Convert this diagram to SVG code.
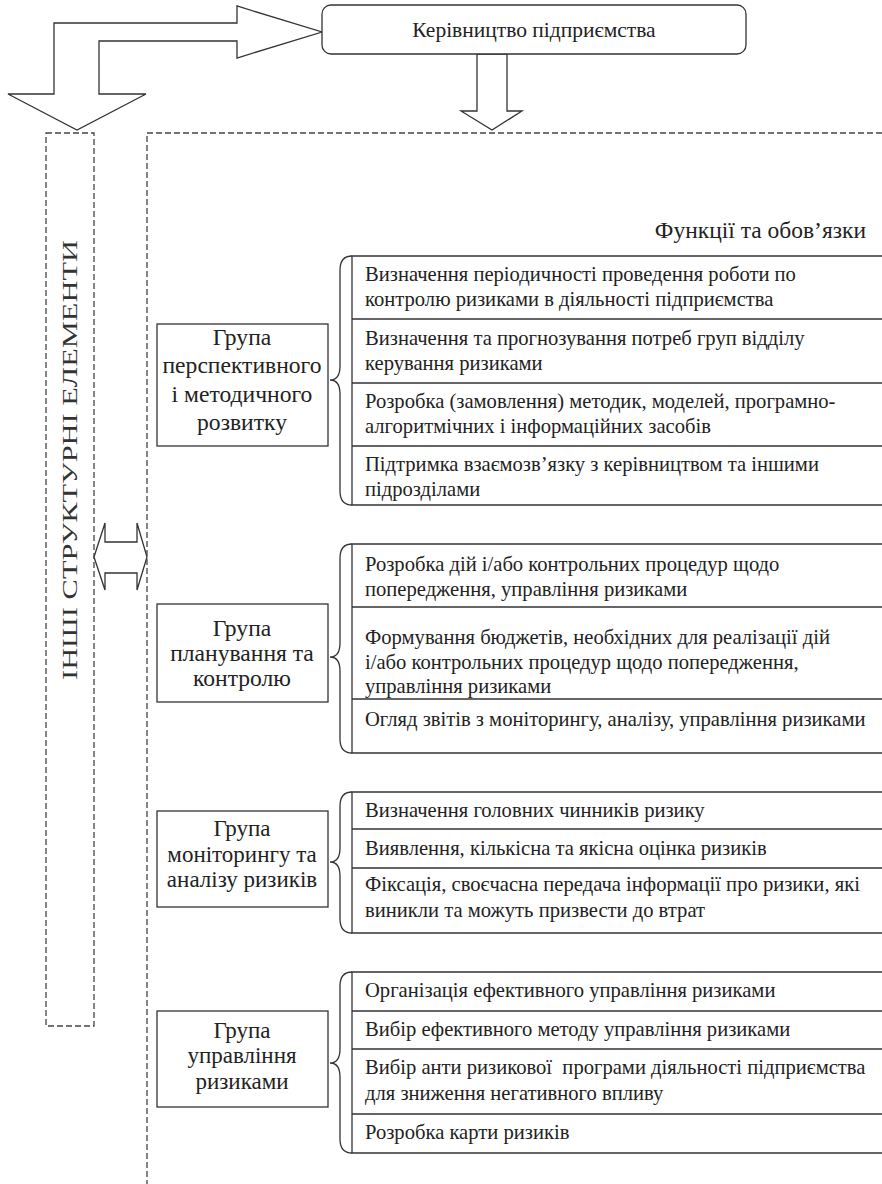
<svg xmlns="http://www.w3.org/2000/svg" width="882" height="1184" viewBox="0 0 882 1184">
<style>
.bg{fill:#fff}
.ln{fill:none;stroke:#333;stroke-width:1.3}
.ar{fill:#fff;stroke:#333;stroke-width:1.3;stroke-linejoin:miter}
.dash{fill:none;stroke:#444;stroke-width:1.3;stroke-dasharray:6 3}
.box{fill:#fff;stroke:#333;stroke-width:1.3}
text{font-family:'Liberation Serif','Times New Roman',serif;fill:#222}
.t{font-size:20.6px}
.g{font-size:23.6px;text-anchor:middle}
.g2{font-size:23px;text-anchor:middle}
.h{font-size:21.5px;text-anchor:middle}
.v{font-size:22px;text-anchor:middle;fill:#333}
</style>
<rect class="bg" x="0" y="0" width="882" height="1184"/>

<g id="connectors">
  <path class="ar" d="M8,94 L54,94 L54,23 L237,23 L237,6 L322,32 L237,58 L237,41 L99,41 L99,94 L146,94 L77,130 Z"/>
  <path class="ar" d="M477,54 L507,54 L507,111 L522,111 L492,130 L461,111 L477,111 Z"/>
  <path class="ar" d="M94,557 L105,523 L105,542 L137,542 L137,523 L147,557 L137,590 L137,573 L105,573 L105,590 Z"/>
  <path class="ln" d="M352,256 Q340,256 340,270 L340,366 Q340,380 330,380 Q340,380 340,394 L340,491 Q340,505 352,505"/>
  <path class="ln" d="M352,544 Q340,544 340,558 L340,643 Q340,657 330,657 Q340,657 340,671 L340,739 Q340,753 352,753"/>
  <path class="ln" d="M352,792 Q340,792 340,806 L340,848 Q340,862 330,862 Q340,862 340,876 L340,919 Q340,933 352,933"/>
  <path class="ln" d="M352,972 Q340,972 340,986 L340,1049 Q340,1063 330,1063 Q340,1063 340,1077 L340,1139 Q340,1153 352,1153"/>
</g>

<g id="head">
  <rect class="box" x="322" y="5" width="424" height="49" rx="9"/>
  <text class="h" x="534" y="37">Керівництво підприємства</text>
</g>

<g id="others">
  <path class="dash" d="M46,133 L94,133 L94,1026 L46,1026 Z"/>
  <text class="v" transform="translate(77,460) rotate(-90)" textLength="440" lengthAdjust="spacingAndGlyphs">ІНШІ СТРУКТУРНІ ЕЛЕМЕНТИ</text>
</g>

<g id="department">
  <path class="dash" d="M882,133 L147,133 L147,1184"/>
  <text x="866" y="238" text-anchor="end" font-size="23.5">Функції та обов’язки</text>
</g>

<g id="group1">
  <rect class="box" x="157" y="324" width="171" height="122"/>
  <text class="g" x="242" y="345">Група</text>
  <text class="g" x="242" y="373">перспективного</text>
  <text class="g" x="242" y="402">і методичного</text>
  <text class="g" x="242" y="430">розвитку</text>
</g>
<g id="items1">
  <path class="ln" d="M884,256 L352,256 L352,505 L884,505 M352,319 L884,319 M352,383 L884,383 M352,446 L884,446"/>
  <text class="t" x="365" y="281">Визначення періодичності проведення роботи по</text>
  <text class="t" x="365" y="306">контролю ризиками в діяльності підприємства</text>
  <text class="t" x="365" y="345">Визначення та прогнозування потреб груп відділу</text>
  <text class="t" x="365" y="370">керування ризиками</text>
  <text class="t" x="365" y="408">Розробка (замовлення) методик, моделей, програмно-</text>
  <text class="t" x="365" y="433">алгоритмічних і інформаційних засобів</text>
  <text class="t" x="365" y="471">Підтримка взаємозв’язку з керівництвом та іншими</text>
  <text class="t" x="365" y="496">підрозділами</text>
</g>

<g id="group2">
  <rect class="box" x="157" y="604" width="171" height="98"/>
  <text class="g" x="242" y="636">Група</text>
  <text class="g" x="242" y="661">планування та</text>
  <text class="g" x="242" y="686">контролю</text>
</g>
<g id="items2">
  <path class="ln" d="M884,544 L352,544 L352,753 L884,753 M352,607 L884,607 M352,699 L884,699"/>
  <text class="t" x="365" y="571">Розробка дій і/або контрольних процедур щодо</text>
  <text class="t" x="365" y="596">попередження, управління ризиками</text>
  <text class="t" x="365" y="644">Формування бюджетів, необхідних для реалізації дій</text>
  <text class="t" x="365" y="669">і/або контрольних процедур щодо попередження,</text>
  <text class="t" x="365" y="693">управління ризиками</text>
  <text class="t" x="365" y="726">Огляд звітів з моніторингу, аналізу, управління ризиками</text>
</g>

<g id="group3">
  <rect class="box" x="157" y="811" width="171" height="96"/>
  <text class="g2" x="242" y="836">Група</text>
  <text class="g2" x="242" y="862">моніторингу та</text>
  <text class="g2" x="242" y="887">аналізу ризиків</text>
</g>
<g id="items3">
  <path class="ln" d="M884,792 L352,792 L352,933 L884,933 M352,829 L884,829 M352,868 L884,868"/>
  <text class="t" x="365" y="817">Визначення головних чинників ризику</text>
  <text class="t" x="365" y="855">Виявлення, кількісна та якісна оцінка ризиків</text>
  <text class="t" x="365" y="891">Фіксація, своєчасна передача інформації про ризики, які</text>
  <text class="t" x="365" y="917">виникли та можуть призвести до втрат</text>
</g>

<g id="group4">
  <rect class="box" x="157" y="1011" width="171" height="96"/>
  <text class="g2" x="242" y="1038">Група</text>
  <text class="g2" x="242" y="1063">управління</text>
  <text class="g2" x="242" y="1089">ризиками</text>
</g>
<g id="items4">
  <path class="ln" d="M884,972 L352,972 L352,1153 L884,1153 M352,1011 L884,1011 M352,1049 L884,1049 M352,1114 L884,1114"/>
  <text class="t" x="365" y="997">Організація ефективного управління ризиками</text>
  <text class="t" x="365" y="1036">Вибір ефективного методу управління ризиками</text>
  <text class="t" x="365" y="1074" style="white-space:pre">Вибір анти ризикової  програми діяльності підприємства</text>
  <text class="t" x="365" y="1100">для зниження негативного впливу</text>
  <text class="t" x="365" y="1139">Розробка карти ризиків</text>
</g>
</svg>
